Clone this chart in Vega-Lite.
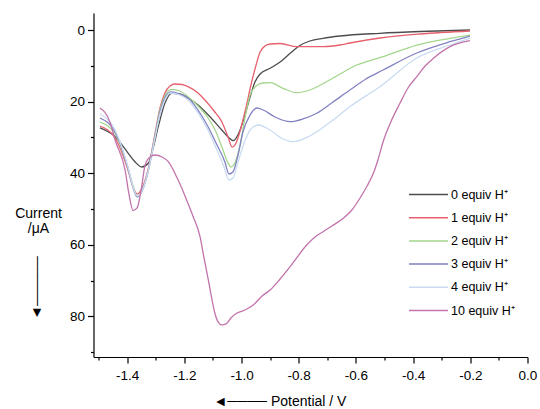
{
  "$schema": "https://vega.github.io/schema/vega-lite/v6.json",
  "width": 434,
  "height": 344,
  "autosize": "none",
  "padding": {"left": 93.5, "top": 13, "right": 12.5, "bottom": 52},
  "background": "white",
  "config": {
    "view": {"stroke": null},
    "font": "Liberation Sans",
    "axis": {"domainColor": "#000", "tickColor": "#000", "labelColor": "#000", "titleColor": "#000", "grid": false, "labelFontSize": 13.5, "labelFont": "Liberation Sans", "titleFont": "Liberation Sans", "domainWidth": 1.2, "tickWidth": 1.2, "titleFontWeight": "normal"}
  },
  "data": {"values": [
    {"s":"0","E":-1.495,"I":27.37},{"s":"0","E":-1.442,"I":29.80},{"s":"0","E":-1.396,"I":34.44},{"s":"0","E":-1.372,"I":36.87},{"s":"0","E":-1.349,"I":38.27},{"s":"0","E":-1.326,"I":37.23},{"s":"0","E":-1.309,"I":32.96},{"s":"0","E":-1.291,"I":27.01},{"s":"0","E":-1.268,"I":20.47},{"s":"0","E":-1.244,"I":17.68},{"s":"0","E":-1.215,"I":17.88},{"s":"0","E":-1.186,"I":19.08},{"s":"0","E":-1.152,"I":20.95},{"s":"0","E":-1.116,"I":23.74},{"s":"0","E":-1.069,"I":27.93},{"s":"0","E":-1.047,"I":29.89},{"s":"0","E":-1.029,"I":30.92},{"s":"0","E":-1.005,"I":27.93},{"s":"0","E":-0.988,"I":23.74},{"s":"0","E":-0.970,"I":18.72},{"s":"0","E":-0.953,"I":14.53},{"s":"0","E":-0.935,"I":12.29},{"s":"0","E":-0.900,"I":10.70},{"s":"0","E":-0.865,"I":8.94},{"s":"0","E":-0.830,"I":6.51},{"s":"0","E":-0.796,"I":4.33},{"s":"0","E":-0.761,"I":3.07},{"s":"0","E":-0.715,"I":2.32},{"s":"0","E":-0.656,"I":1.68},{"s":"0","E":-0.516,"I":0.92},{"s":"0","E":-0.376,"I":0.42},{"s":"0","E":-0.201,"I":0.00},
    {"s":"1","E":-1.495,"I":26.82},{"s":"1","E":-1.442,"I":30.17},{"s":"1","E":-1.397,"I":39.11},{"s":"1","E":-1.379,"I":43.85},{"s":"1","E":-1.365,"I":45.81},{"s":"1","E":-1.351,"I":44.69},{"s":"1","E":-1.327,"I":39.11},{"s":"1","E":-1.302,"I":28.77},{"s":"1","E":-1.285,"I":21.79},{"s":"1","E":-1.268,"I":17.60},{"s":"1","E":-1.250,"I":15.64},{"s":"1","E":-1.233,"I":15.08},{"s":"1","E":-1.208,"I":15.22},{"s":"1","E":-1.187,"I":15.84},{"s":"1","E":-1.152,"I":17.60},{"s":"1","E":-1.128,"I":19.55},{"s":"1","E":-1.096,"I":22.63},{"s":"1","E":-1.069,"I":25.61},{"s":"1","E":-1.047,"I":29.89},{"s":"1","E":-1.033,"I":32.68},{"s":"1","E":-1.019,"I":31.56},{"s":"1","E":-1.002,"I":27.37},{"s":"1","E":-0.984,"I":21.51},{"s":"1","E":-0.967,"I":15.36},{"s":"1","E":-0.949,"I":9.78},{"s":"1","E":-0.935,"I":6.15},{"s":"1","E":-0.918,"I":4.47},{"s":"1","E":-0.900,"I":3.91},{"s":"1","E":-0.865,"I":3.77},{"s":"1","E":-0.807,"I":4.66},{"s":"1","E":-0.715,"I":4.66},{"s":"1","E":-0.656,"I":4.19},{"s":"1","E":-0.621,"I":3.63},{"s":"1","E":-0.516,"I":2.23},{"s":"1","E":-0.376,"I":1.12},{"s":"1","E":-0.201,"I":0.28},
    {"s":"2","E":-1.495,"I":25.70},{"s":"2","E":-1.442,"I":29.05},{"s":"2","E":-1.397,"I":38.55},{"s":"2","E":-1.379,"I":43.58},{"s":"2","E":-1.365,"I":46.37},{"s":"2","E":-1.351,"I":45.25},{"s":"2","E":-1.327,"I":39.66},{"s":"2","E":-1.302,"I":29.33},{"s":"2","E":-1.285,"I":22.35},{"s":"2","E":-1.268,"I":18.44},{"s":"2","E":-1.244,"I":16.56},{"s":"2","E":-1.215,"I":17.04},{"s":"2","E":-1.187,"I":18.63},{"s":"2","E":-1.152,"I":21.23},{"s":"2","E":-1.117,"I":24.58},{"s":"2","E":-1.089,"I":28.49},{"s":"2","E":-1.069,"I":32.60},{"s":"2","E":-1.047,"I":37.15},{"s":"2","E":-1.037,"I":38.27},{"s":"2","E":-1.023,"I":37.15},{"s":"2","E":-1.005,"I":32.12},{"s":"2","E":-0.988,"I":24.58},{"s":"2","E":-0.970,"I":18.16},{"s":"2","E":-0.949,"I":15.64},{"s":"2","E":-0.925,"I":14.80},{"s":"2","E":-0.900,"I":14.72},{"s":"2","E":-0.855,"I":16.28},{"s":"2","E":-0.807,"I":17.51},{"s":"2","E":-0.761,"I":16.76},{"s":"2","E":-0.680,"I":13.41},{"s":"2","E":-0.597,"I":9.78},{"s":"2","E":-0.505,"I":7.46},{"s":"2","E":-0.387,"I":4.19},{"s":"2","E":-0.271,"I":2.32},{"s":"2","E":-0.201,"I":1.40},
    {"s":"3","E":-1.495,"I":24.58},{"s":"3","E":-1.442,"I":28.49},{"s":"3","E":-1.397,"I":38.55},{"s":"3","E":-1.379,"I":44.13},{"s":"3","E":-1.365,"I":46.65},{"s":"3","E":-1.351,"I":45.53},{"s":"3","E":-1.327,"I":39.66},{"s":"3","E":-1.302,"I":29.61},{"s":"3","E":-1.285,"I":22.91},{"s":"3","E":-1.268,"I":18.99},{"s":"3","E":-1.247,"I":17.32},{"s":"3","E":-1.215,"I":17.88},{"s":"3","E":-1.187,"I":18.99},{"s":"3","E":-1.152,"I":22.35},{"s":"3","E":-1.117,"I":27.01},{"s":"3","E":-1.089,"I":31.56},{"s":"3","E":-1.058,"I":36.87},{"s":"3","E":-1.044,"I":40.22},{"s":"3","E":-1.030,"I":39.66},{"s":"3","E":-1.012,"I":34.92},{"s":"3","E":-0.995,"I":28.49},{"s":"3","E":-0.970,"I":23.74},{"s":"3","E":-0.946,"I":21.79},{"s":"3","E":-0.924,"I":22.35},{"s":"3","E":-0.883,"I":24.30},{"s":"3","E":-0.830,"I":25.61},{"s":"3","E":-0.785,"I":24.86},{"s":"3","E":-0.737,"I":23.27},{"s":"3","E":-0.680,"I":20.11},{"s":"3","E":-0.621,"I":16.76},{"s":"3","E":-0.565,"I":13.69},{"s":"3","E":-0.505,"I":11.17},{"s":"3","E":-0.387,"I":6.42},{"s":"3","E":-0.271,"I":3.27},{"s":"3","E":-0.201,"I":1.68},
    {"s":"4","E":-1.495,"I":23.46},{"s":"4","E":-1.442,"I":27.93},{"s":"4","E":-1.397,"I":38.27},{"s":"4","E":-1.379,"I":43.85},{"s":"4","E":-1.365,"I":46.37},{"s":"4","E":-1.351,"I":45.53},{"s":"4","E":-1.327,"I":39.66},{"s":"4","E":-1.302,"I":29.89},{"s":"4","E":-1.285,"I":23.46},{"s":"4","E":-1.268,"I":19.55},{"s":"4","E":-1.250,"I":17.60},{"s":"4","E":-1.215,"I":18.16},{"s":"4","E":-1.187,"I":19.55},{"s":"4","E":-1.152,"I":23.18},{"s":"4","E":-1.117,"I":27.93},{"s":"4","E":-1.089,"I":32.96},{"s":"4","E":-1.061,"I":38.27},{"s":"4","E":-1.044,"I":41.90},{"s":"4","E":-1.030,"I":41.34},{"s":"4","E":-1.012,"I":36.87},{"s":"4","E":-0.991,"I":31.56},{"s":"4","E":-0.970,"I":27.93},{"s":"4","E":-0.941,"I":26.54},{"s":"4","E":-0.900,"I":27.93},{"s":"4","E":-0.855,"I":30.45},{"s":"4","E":-0.820,"I":31.20},{"s":"4","E":-0.761,"I":29.61},{"s":"4","E":-0.680,"I":25.14},{"s":"4","E":-0.621,"I":21.42},{"s":"4","E":-0.516,"I":15.84},{"s":"4","E":-0.387,"I":7.82},{"s":"4","E":-0.271,"I":4.19},{"s":"4","E":-0.201,"I":2.23},
    {"s":"10","E":-1.495,"I":21.79},{"s":"10","E":-1.460,"I":25.70},{"s":"10","E":-1.442,"I":30.73},{"s":"10","E":-1.407,"I":39.11},{"s":"10","E":-1.393,"I":46.09},{"s":"10","E":-1.379,"I":50.47},{"s":"10","E":-1.365,"I":49.72},{"s":"10","E":-1.351,"I":44.69},{"s":"10","E":-1.337,"I":37.71},{"s":"10","E":-1.320,"I":35.47},{"s":"10","E":-1.302,"I":34.92},{"s":"10","E":-1.278,"I":35.47},{"s":"10","E":-1.256,"I":36.79},{"s":"10","E":-1.227,"I":40.98},{"s":"10","E":-1.209,"I":44.13},{"s":"10","E":-1.192,"I":47.49},{"s":"10","E":-1.170,"I":51.96},{"s":"10","E":-1.145,"I":57.74},{"s":"10","E":-1.131,"I":63.69},{"s":"10","E":-1.116,"I":69.83},{"s":"10","E":-1.103,"I":75.42},{"s":"10","E":-1.093,"I":79.13},{"s":"10","E":-1.082,"I":81.56},{"s":"10","E":-1.069,"I":82.40},{"s":"10","E":-1.054,"I":82.12},{"s":"10","E":-1.037,"I":80.45},{"s":"10","E":-1.017,"I":79.13},{"s":"10","E":-0.988,"I":78.21},{"s":"10","E":-0.959,"I":76.82},{"s":"10","E":-0.928,"I":74.30},{"s":"10","E":-0.900,"I":72.63},{"s":"10","E":-0.865,"I":69.55},{"s":"10","E":-0.830,"I":66.12},{"s":"10","E":-0.772,"I":60.06},{"s":"10","E":-0.743,"I":57.82},{"s":"10","E":-0.715,"I":56.34},{"s":"10","E":-0.684,"I":54.75},{"s":"10","E":-0.644,"I":52.60},{"s":"10","E":-0.614,"I":50.28},{"s":"10","E":-0.586,"I":47.01},{"s":"10","E":-0.561,"I":43.58},{"s":"10","E":-0.539,"I":40.03},{"s":"10","E":-0.523,"I":36.31},{"s":"10","E":-0.504,"I":31.01},{"s":"10","E":-0.481,"I":26.26},{"s":"10","E":-0.446,"I":20.47},{"s":"10","E":-0.418,"I":16.20},{"s":"10","E":-0.387,"I":13.04},{"s":"10","E":-0.358,"I":10.06},{"s":"10","E":-0.329,"I":7.91},{"s":"10","E":-0.271,"I":4.66},{"s":"10","E":-0.201,"I":2.99}
  ]},
  "layer": [
    {
      "mark": {"type": "line", "strokeWidth": 1.3, "interpolate": "monotone"},
      "encoding": {
        "x": {
          "field": "E", "type": "quantitative",
          "scale": {"domain": [-1.5175, 0], "nice": false, "zero": false},
          "axis": {
            "values": [-1.5,-1.4,-1.3,-1.2,-1.1,-1.0,-0.9,-0.8,-0.7,-0.6,-0.5,-0.4,-0.3,-0.2,-0.1,0],
            "labelExpr": "abs(round(datum.value*10)) % 2 == 0 ? replace(format(datum.value, '.1f'), '\u2212', '-') : ''",
            "tickSize": {"condition": {"test": "abs(round(datum.value*10)) % 2 == 0", "value": 6}, "value": 3},
            "labelPadding": 5,
            "labelOverlap": false,
            "labelFlush": false,
            "title": "◄──── Potential / V",
            "titleFontSize": 14,
            "titleAlign": "left",
            "titleBaseline": "alphabetic",
            "titleX": 119.5,
            "titleY": 48
          }
        },
        "y": {
          "field": "I", "type": "quantitative",
          "scale": {"domain": [-4.75, 91.35], "nice": false, "zero": false, "reverse": true},
          "axis": {
            "values": [0,10,20,30,40,50,60,70,80,90],
            "labelExpr": "datum.value % 20 == 0 ? datum.label : ''",
            "tickSize": {"condition": {"test": "datum.value % 20 == 0", "value": 6}, "value": 3},
            "labelPadding": 3,
            "labelOverlap": false,
            "labelFlush": false,
            "title": ["Current", "/μA"],
            "titleFontSize": 14,
            "titleAngle": 0,
            "titleAlign": "center",
            "titleBaseline": "alphabetic",
            "titleLineHeight": 15,
            "titleX": -55.5,
            "titleY": 204
          }
        },
        "color": {
          "field": "s", "type": "nominal",
          "scale": {"domain": ["0","1","2","3","4","10"], "range": ["#4d4d4d","#e6606e","#a3d68c","#8282c2","#cadcf2","#c273ab"]},
          "legend": {
            "orient": "none", "legendX": 340.5, "legendY": 174, "title": null,
            "symbolType": "M-5,0H1", "symbolSize": 169, "symbolStrokeWidth": 1.5,
            "labelFontSize": 12.5, "labelOffset": 2, "rowPadding": 9.2, "padding": 0,
            "labelColor": "#000", "labelFont": "Liberation Sans",
            "labelExpr": "datum.label + ' equiv H⁺'"
          }
        }
      }
    },
    {
      "mark": {"type": "point", "opacity": 0},
      "encoding": {
        "y": {
          "field": "I", "type": "quantitative",
          "axis": {
            "orient": "left", "domain": false, "ticks": false, "labels": false,
            "title": "─────►", "titleAngle": 90, "titleFontSize": 14,
            "titleAlign": "center", "titleBaseline": "middle",
            "titleX": -57.5, "titleY": 274.5
          }
        }
      }
    }
  ],
  "resolve": {"axis": {"y": "independent"}}
}
